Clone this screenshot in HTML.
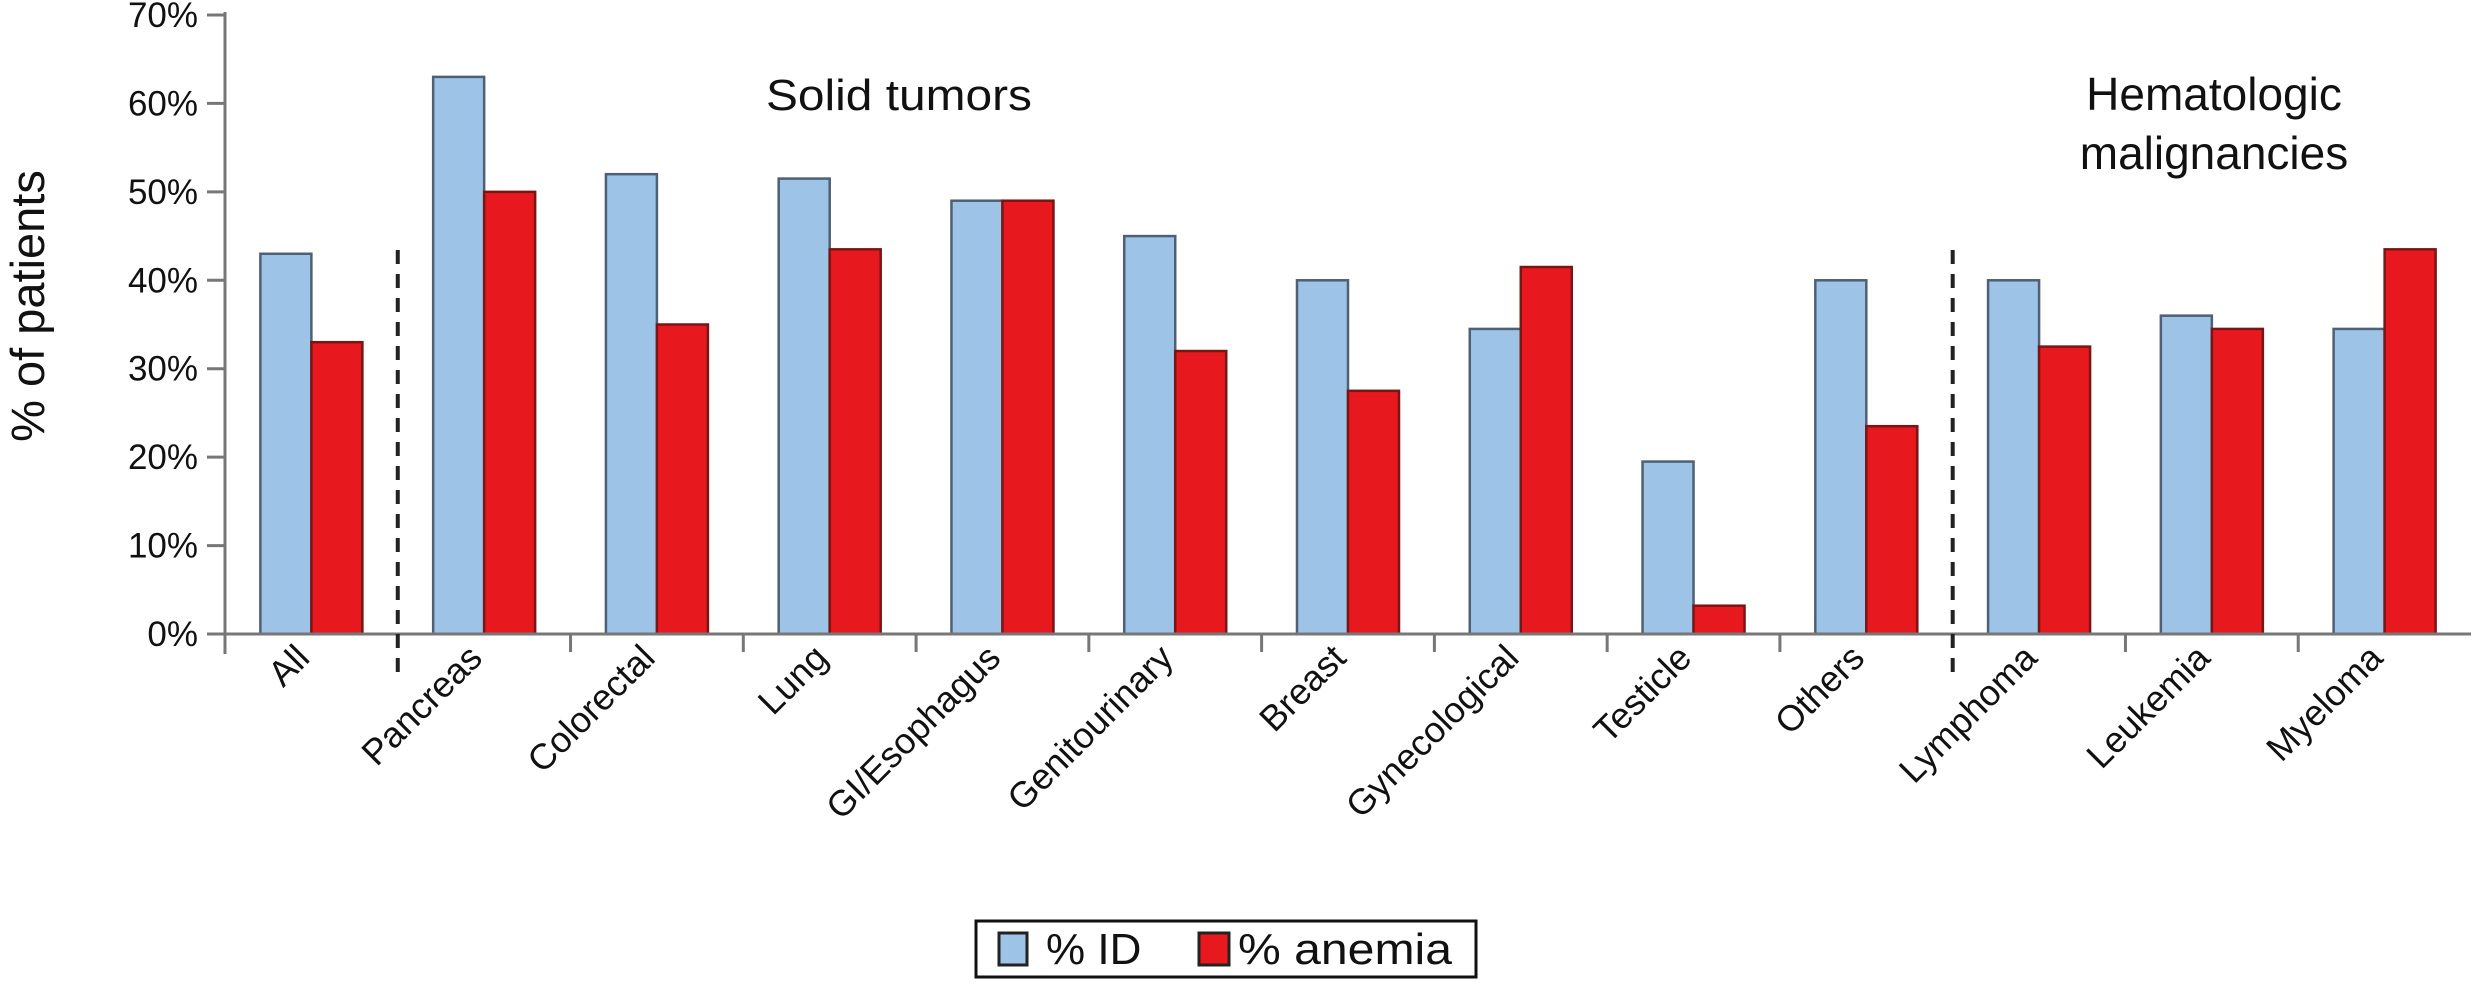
<!DOCTYPE html>
<html><head><meta charset="utf-8"><style>
html,body{margin:0;padding:0;background:#fff;}
svg{display:block;font-family:"Liberation Sans",Arial,sans-serif;}
</style></head><body>
<svg id="chart" width="2473" height="989" viewBox="0 0 2473 989" xmlns="http://www.w3.org/2000/svg">
<text transform="translate(44,306) rotate(-90)" text-anchor="middle" font-size="47" fill="#111">% of patients</text>
<text x="766" y="110" font-size="44" textLength="266" lengthAdjust="spacingAndGlyphs" fill="#111">Solid tumors</text>
<text text-anchor="middle" font-size="46" fill="#111"><tspan x="2214" y="110">Hematologic</tspan><tspan x="2214" y="169">malignancies</tspan></text>
<g>
<rect x="976" y="921" width="500" height="56" fill="#fff" stroke="#111" stroke-width="3"/>
<rect x="999" y="933" width="28" height="32" fill="#9DC3E6" stroke="#222" stroke-width="3"/>
<text x="1046" y="964" font-size="44" fill="#111">% ID</text>
<rect x="1199" y="933" width="30" height="32" fill="#E8191E" stroke="#222" stroke-width="3"/>
<text x="1238" y="964" font-size="44" textLength="214" lengthAdjust="spacingAndGlyphs" fill="#111">% anemia</text>
</g>
</svg>
<script>
const categories = ["All","Pancreas","Colorectal","Lung","GI/Esophagus","Genitourinary","Breast","Gynecological","Testicle","Others","Lymphoma","Leukemia","Myeloma"];
const idValues = [43,63,52,51.5,49,45,40,34.5,19.5,40,40,36,34.5];
const anemiaValues = [33,50,35,43.5,49,32,27.5,41.5,3.2,23.5,32.5,34.5,43.5];
const yTicks = [0,10,20,30,40,50,60,70];
const yTickLabels = ["0%","10%","20%","30%","40%","50%","60%","70%"];
const dividerAfter = [0,9];

const NS="http://www.w3.org/2000/svg";
const svg=document.getElementById('chart');
const X0=225, X1=2471, Y0=634, Y70=15;
const slot=(X1-X0)/categories.length;
function yScale(v){return Y0-(Y0-Y70)*v/70;}
function xCenter(i){return X0+slot*(i+0.5);}
function mk(tag,attrs){const e=document.createElementNS(NS,tag);for(const k in attrs)e.setAttribute(k,attrs[k]);svg.appendChild(e);return e;}

const bw=51;
categories.forEach((c,i)=>{
  const cx=xCenter(i);
  const b1=mk('rect',{x:cx-bw,y:yScale(idValues[i]),width:bw,height:Y0-yScale(idValues[i]),fill:'#9DC3E6',stroke:'#4f5f75','stroke-width':2.5});
  
  
  const b2=mk('rect',{x:cx,y:yScale(anemiaValues[i]),width:bw,height:Y0-yScale(anemiaValues[i]),fill:'#E8191E',stroke:'#7a1515','stroke-width':2.5});
  
  
  const t=mk('text',{x:0,y:0,'font-size':36,'text-anchor':'end',fill:'#111',transform:`translate(${cx},${660}) rotate(-45)`});
  t.textContent=c;
  
  
});
const ya=mk('line',{x1:X0,y1:Y70-3,x2:X0,y2:Y0+20,stroke:'#777','stroke-width':3});


const xa=mk('line',{x1:X0-18,y1:Y0,x2:X1,y2:Y0,stroke:'#777','stroke-width':3});


yTicks.forEach((v,i)=>{
  const y=yScale(v);
  const tk=mk('line',{x1:X0-18,y1:y,x2:X0,y2:y,stroke:'#777','stroke-width':3});
  
  
  const t=mk('text',{x:198,y:y+12,'font-size':35,'text-anchor':'end',fill:'#111'});
  t.textContent=yTickLabels[i];
  
  
});
for(let k=1;k<categories.length;k++){
  const x=X0+slot*k;
  if(dividerAfter.includes(k-1)){
    const d=mk('line',{x1:x,y1:250,x2:x,y2:680,stroke:'#222','stroke-width':4,'stroke-dasharray':'14,10'});
    
    
  } else {
    const tk=mk('line',{x1:x,y1:Y0,x2:x,y2:Y0+18,stroke:'#777','stroke-width':3});
    
    
  }
}
</script>
</body></html>
